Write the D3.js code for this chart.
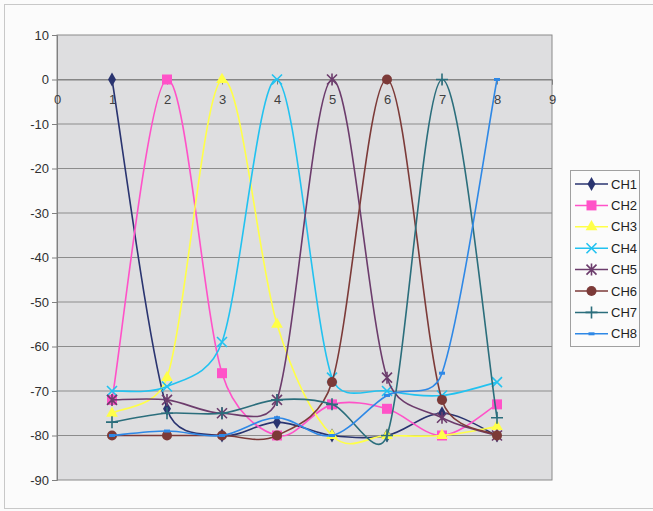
<!DOCTYPE html>
<html>
<head>
<meta charset="utf-8">
<script src="https://cdn.jsdelivr.net/npm/d3@7/dist/d3.min.js"></script>
<style>
  html, body { margin: 0; padding: 0; background: #fbfbfb; }
  svg { display: block; }
  text { font-family: "Liberation Sans", Arial, sans-serif; }
</style>
</head>
<body>
<svg id="chart" width="653" height="511"></svg>
<script>
// Channel positions along the x axis
const positions = [1, 2, 3, 4, 5, 6, 7, 8];
const seriesNames = ["CH1", "CH2", "CH3", "CH4", "CH5", "CH6", "CH7", "CH8"];

// Level (dB) per channel at each position
const ch1 = [0, -74, -80, -77, -80, -80, -75, -80];
const ch2 = [-72, 0, -66, -80, -73, -74, -80, -73];
const ch3 = [-75, -67, 0, -55, -80, -80, -80, -78];
const ch4 = [-70, -69, -59, 0, -67, -70, -71, -68];
const ch5 = [-72, -72, -75, -72, 0, -67, -76, -80];
const ch6 = [-80, -80, -80, -80, -68, 0, -72, -80];
const ch7 = [-77, -75, -75, -72, -73, -80, 0, -76];
const ch8 = [-80, -79, -80, -76, -80, -71, -66, 0];

const xTicks = [0, 1, 2, 3, 4, 5, 6, 7, 8, 9];
const yTicks = [10, 0, -10, -20, -30, -40, -50, -60, -70, -80, -90];

const seriesValues = [ch1, ch2, ch3, ch4, ch5, ch6, ch7, ch8];
const colors = ["#2a3470", "#ff52c8", "#ffff48", "#22c2f0", "#6c3c6c", "#7c3a38", "#2b6e7c", "#2e88e6"];
const symbols = ["diamond", "square", "triangle", "x", "asterisk", "circle", "plus", "dash"];

const svg = d3.select("#chart");
const W = 653, H = 511;

// outer chart frame
svg.append("rect").attr("x", 4.5).attr("y", 4.5).attr("width", W - 4).attr("height", H - 7)
  .attr("fill", "#fbfbfb").attr("stroke", "#c8c8c8");

const plot = { left: 57, right: 552, top: 35, bottom: 480 };
const x = d3.scaleLinear().domain([0, 9]).range([plot.left, plot.right]);
const y = d3.scaleLinear().domain([-90, 10]).range([plot.bottom, plot.top]);

// plot area
svg.append("rect").attr("x", plot.left).attr("y", plot.top)
  .attr("width", plot.right - plot.left).attr("height", plot.bottom - plot.top)
  .attr("fill", "#dedee0").attr("stroke", "#8a8a8a");

// horizontal gridlines
svg.append("g").selectAll("line").data(yTicks.filter(d => d !== 10 && d !== -90)).join("line")
  .attr("x1", plot.left).attr("x2", plot.right)
  .attr("y1", d => y(d)).attr("y2", d => y(d))
  .attr("stroke", "#8c8c8c").attr("stroke-width", 1);

// y axis
const yAxis = d3.axisLeft(y).tickValues(yTicks).tickSize(5).tickPadding(3).tickFormat(d => String(d));
const gy = svg.append("g").attr("transform", `translate(${plot.left},0)`).call(yAxis);
gy.select(".domain").attr("stroke", "#808080");
gy.selectAll(".tick line").attr("stroke", "#808080");
gy.selectAll("text").attr("font-size", 13).attr("fill", "#303030");

// x axis crossing at 0
const xAxis = d3.axisBottom(x).tickValues(xTicks).tickSize(5).tickPadding(10).tickFormat(d => String(d));
const gx = svg.append("g").attr("transform", `translate(0,${y(0)})`).call(xAxis);
gx.select(".domain").attr("stroke", "#808080");
gx.selectAll(".tick line").attr("stroke", "#808080");
gx.selectAll("text").attr("font-size", 13).attr("fill", "#404040");

// Smoothed line: cubic Bezier segments whose control arms are limited
// to half the segment length, which keeps overshoot small.
function smoothPath(pts) {
  const p = d3.path();
  p.moveTo(pts[0][0], pts[0][1]);
  const dist = (a, b) => Math.hypot(b[0] - a[0], b[1] - a[1]);
  for (let i = 0; i < pts.length - 1; i++) {
    const p0 = pts[Math.max(0, i - 1)], p1 = pts[i], p2 = pts[i + 1], p3 = pts[Math.min(pts.length - 1, i + 2)];
    const d02 = dist(p0, p2), d12 = dist(p1, p2), d13 = dist(p1, p3);
    let f = 1 / 6, g = 1 / 6;
    if (d02 / 6 >= d12 / 2 && d02 > 0) f = d12 / d02 / 2;
    if (d13 / 6 >= d12 / 2 && d13 > 0) g = d12 / d13 / 2;
    const c1 = [p1[0] + f * (p2[0] - p0[0]), p1[1] + f * (p2[1] - p0[1])];
    const c2 = [p2[0] - g * (p3[0] - p1[0]), p2[1] - g * (p3[1] - p1[1])];
    p.bezierCurveTo(c1[0], c1[1], c2[0], c2[1], p2[0], p2[1]);
  }
  return p.toString();
}

function drawMarker(g, kind, color, cx, cy) {
  switch (kind) {
    case "diamond":
      g.append("path").attr("d", d3.symbol(d3.symbolDiamond, 55)()).attr("transform", `translate(${cx},${cy})`).attr("fill", color);
      break;
    case "square":
      g.append("rect").attr("x", cx - 5).attr("y", cy - 5).attr("width", 10).attr("height", 10).attr("fill", color);
      break;
    case "triangle":
      g.append("path").attr("d", d3.symbol(d3.symbolTriangle, 60)()).attr("transform", `translate(${cx},${cy})`).attr("fill", color);
      break;
    case "x":
      g.append("path").attr("d", `M${cx-5},${cy-5}L${cx+5},${cy+5}M${cx-5},${cy+5}L${cx+5},${cy-5}`)
        .attr("stroke", color).attr("stroke-width", 1.6).attr("fill", "none");
      break;
    case "asterisk":
      g.append("path").attr("d", `M${cx-5},${cy-5}L${cx+5},${cy+5}M${cx-5},${cy+5}L${cx+5},${cy-5}M${cx},${cy-6}L${cx},${cy+6}`)
        .attr("stroke", color).attr("stroke-width", 1.6).attr("fill", "none");
      break;
    case "circle":
      g.append("circle").attr("cx", cx).attr("cy", cy).attr("r", 5).attr("fill", color);
      break;
    case "plus":
      g.append("path").attr("d", `M${cx-6},${cy}L${cx+6},${cy}M${cx},${cy-6}L${cx},${cy+6}`)
        .attr("stroke", color).attr("stroke-width", 1.6).attr("fill", "none");
      break;
    case "dash":
      g.append("rect").attr("x", cx - 3).attr("y", cy - 1.5).attr("width", 6).attr("height", 3).attr("fill", color);
      break;
  }
}

const seriesG = svg.append("g");
seriesValues.forEach((vals, s) => {
  const g = seriesG.append("g");
  const pts = vals.map((v, i) => [x(positions[i]), y(v)]);
  g.append("path").attr("d", smoothPath(pts)).attr("fill", "none")
    .attr("stroke", colors[s]).attr("stroke-width", 1.6);
  vals.forEach((v, i) => drawMarker(g, symbols[s], colors[s], x(positions[i]), y(v)));
});

// legend
const lg = svg.append("g");
lg.append("rect").attr("x", 570.5).attr("y", 170.5).attr("width", 69).attr("height", 176)
  .attr("fill", "#fbfbfb").attr("stroke", "#a0a0a0");
seriesNames.forEach((name, s) => {
  const ly = 184 + s * 21.4;
  lg.append("line").attr("x1", 575).attr("x2", 608).attr("y1", ly).attr("y2", ly)
    .attr("stroke", colors[s]).attr("stroke-width", 1.5);
  drawMarker(lg, symbols[s], colors[s], 591.5, ly);
  lg.append("text").attr("x", 611).attr("y", ly + 4.5).attr("font-size", 13).attr("fill", "#222").text(name);
});
</script>
</body>
</html>
